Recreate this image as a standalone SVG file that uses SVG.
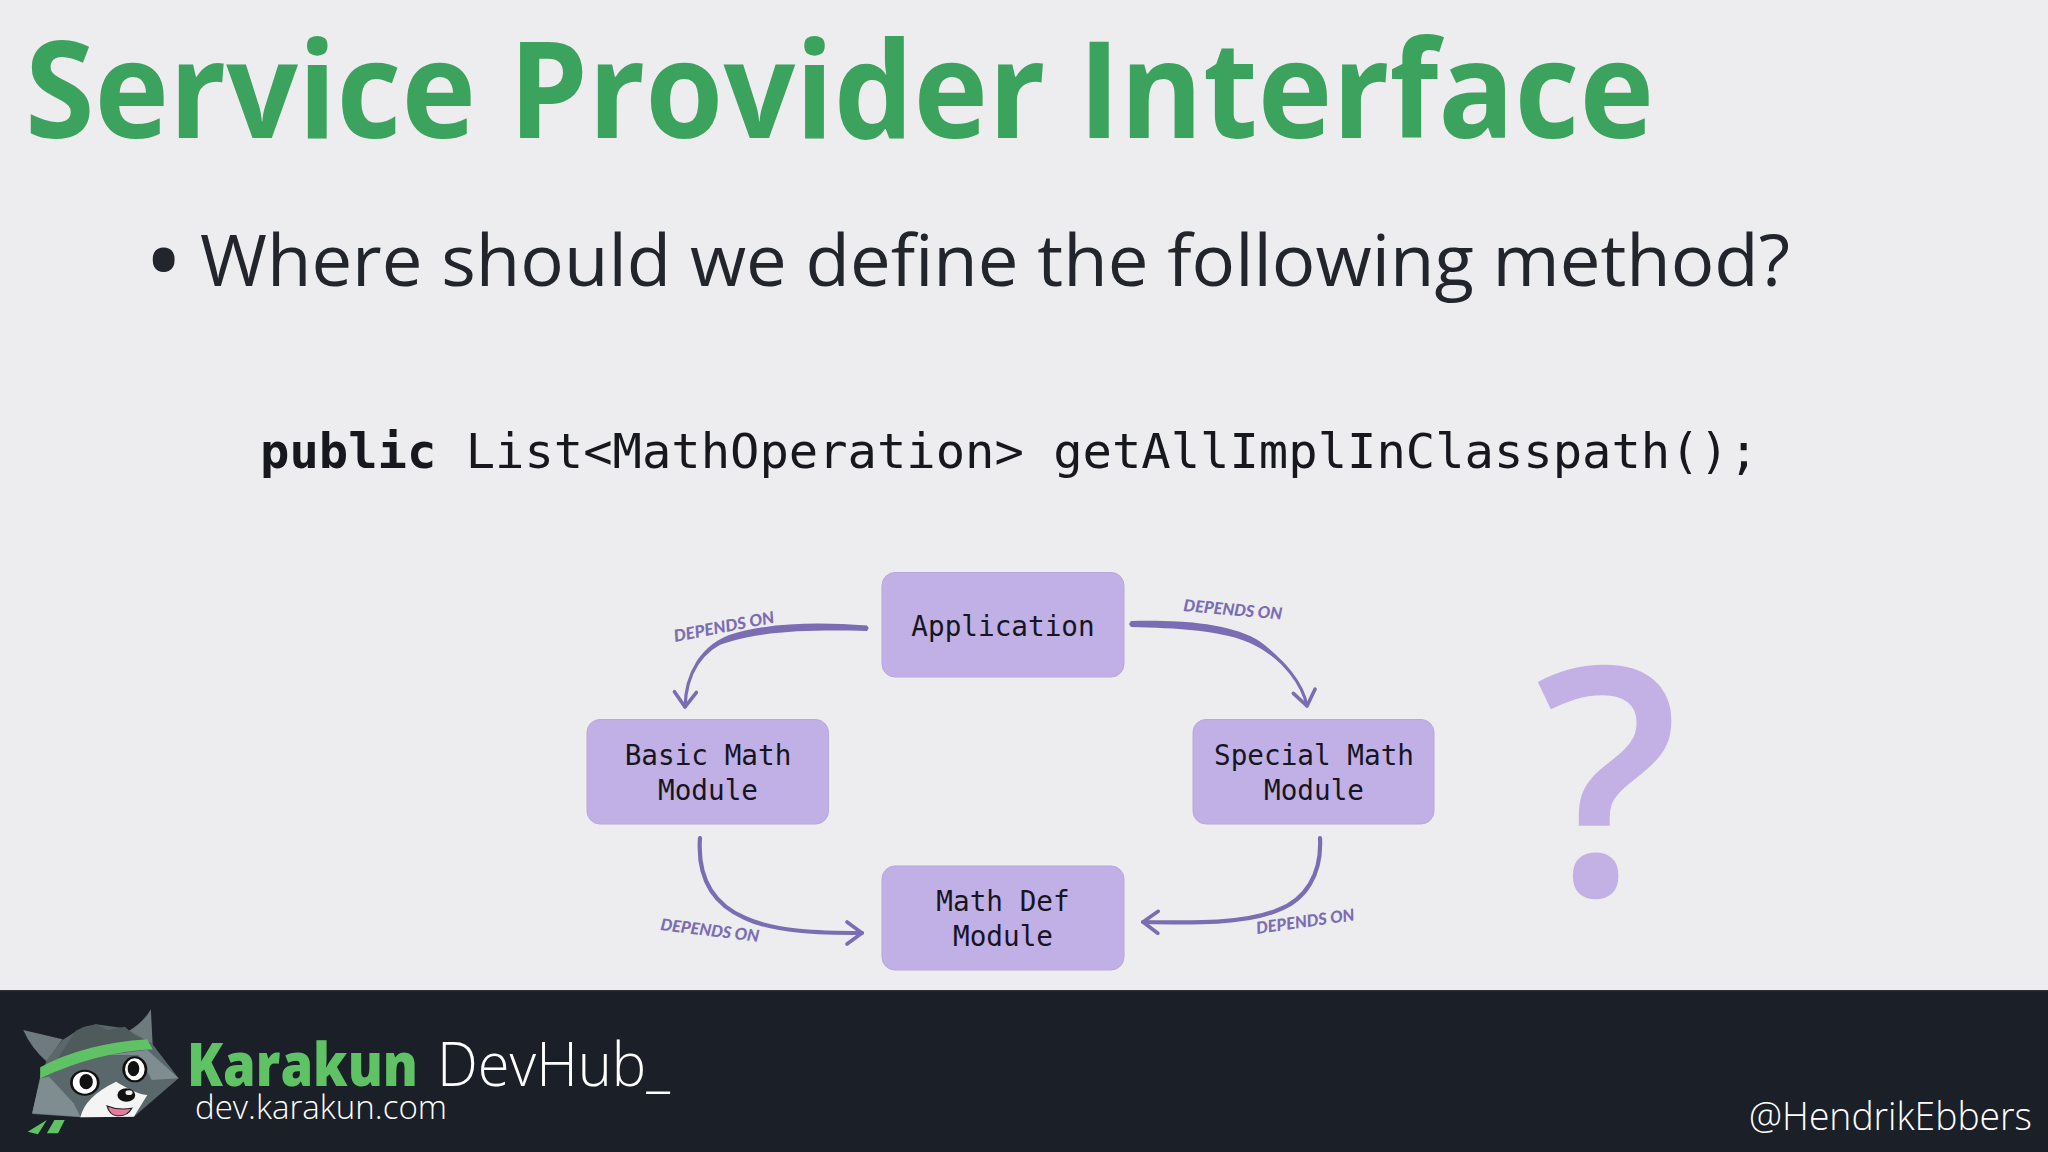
<svg xmlns="http://www.w3.org/2000/svg" width="2048" height="1152" viewBox="0 0 2048 1152">
<style>
.t{font-family:"Open Sans","Noto Sans",sans-serif}
.box{fill:#c0b0e6;stroke:#b7a8dc;stroke-width:1}
.m{font-family:"DejaVu Sans Mono","Liberation Mono",monospace;font-size:27.7px;fill:#17151f;text-anchor:middle}
.code{font-family:"DejaVu Sans Mono","Liberation Mono",monospace;font-size:48.8px;fill:#17181d}
.lbl{font-family:"Lato","Liberation Sans",sans-serif;font-weight:900;font-style:italic;font-size:16.5px;fill:#7b6db4}
.c{fill:none;stroke:#7b6db4;stroke-width:3.2;stroke-linecap:round}
.s{fill:#7b6db4}
</style>
<defs>
<marker id="arr" viewBox="-18 -13 21 26" refX="0" refY="0" markerUnits="userSpaceOnUse" markerWidth="21" markerHeight="26" orient="auto">
<path d="M-15,-11 L0,0 L-15,11" fill="none" stroke="#7b6db4" stroke-width="3.6" stroke-linecap="round" stroke-linejoin="round"/>
</marker>
</defs>
<rect width="2048" height="1152" fill="#edecee"/>
<text class="t" x="25" y="138" font-size="134" font-weight="700" fill="#3ca35e" textLength="1629" lengthAdjust="spacingAndGlyphs">Service Provider Interface</text>
<text class="t" x="149" y="289" font-size="78" font-weight="700" fill="#22252b">•</text>
<text class="t" x="200" y="286" font-size="72" fill="#22252b" textLength="1590" lengthAdjust="spacingAndGlyphs">Where should we define the following method?</text>
<text class="code" x="260" y="468"><tspan font-weight="700">public</tspan> List&lt;MathOperation&gt; getAllImplInClasspath();</text>
<g id="connectors">
<path class="c" marker-end="url(#arr)" d="M867,628 C820,625 770,625 730,638 C700,650 686,675 685,707"/>
<path class="s" d="M867,625.500 C820,622 770,622 729,635 C712,642 702,652 695,664 C705,652 716,645 732,641 C770,630 820,630 867,631 Q869,628 867,625.500Z"/>
<path class="c" marker-end="url(#arr)" d="M1131,624 C1175,623 1225,625 1255,642 C1285,660 1303,685 1307,706"/>
<path class="s" d="M1131,621 C1175,620 1225,622 1256,639 C1270,648 1282,660 1290,672 C1280,662 1268,652 1254,645 C1225,630 1175,628 1131,627 Q1128,624 1131,621Z"/>
<path class="c" style="stroke-width:4.2" marker-end="url(#arr)" d="M700,838 C697,880 715,905 745,918 C775,932 820,933 862,933"/>
<path class="c" style="stroke-width:4.2" marker-end="url(#arr)" d="M1320,838 C1322,875 1305,900 1278,910 C1245,924 1195,923 1143,922"/>
</g>
<g id="edge-labels">
<text class="lbl" textLength="102" lengthAdjust="spacingAndGlyphs" transform="translate(675,642) rotate(-11)">DEPENDS ON</text>
<text class="lbl" textLength="99" lengthAdjust="spacingAndGlyphs" transform="translate(1183,611) rotate(5)">DEPENDS ON</text>
<text class="lbl" textLength="99" lengthAdjust="spacingAndGlyphs" transform="translate(660,930) rotate(7)">DEPENDS ON</text>
<text class="lbl" textLength="99" lengthAdjust="spacingAndGlyphs" transform="translate(1257,934) rotate(-8)">DEPENDS ON</text>
</g>
<g id="application"><rect class="box" x="882" y="572.5" width="242" height="104.5" rx="13"/><text class="m" x="1003" y="636">Application</text></g>
<g id="basic-math-module"><rect class="box" x="587" y="719.5" width="241.500" height="104.5" rx="13"/><text class="m" x="708" y="765">Basic Math</text><text class="m" x="708" y="800">Module</text></g>
<g id="special-math-module"><rect class="box" x="1193" y="719.500" width="241" height="104.5" rx="13"/><text class="m" x="1314" y="765">Special Math</text><text class="m" x="1314" y="800">Module</text></g>
<g id="math-def-module"><rect class="box" x="882" y="866" width="242" height="104" rx="13"/><text class="m" x="1003" y="911">Math Def</text><text class="m" x="1003" y="946">Module</text></g>
<text class="t" x="1535" y="895" font-size="318" font-weight="600" fill="#c3b1e5">?</text>
<rect y="991" width="2048" height="161" fill="#1b1f27"/>
<rect y="990" width="2048" height="1.500" fill="#2e2f33"/>
<g id="logo" transform="translate(0,980) scale(0.4464,0.3333)">
<path d="M52,150 L140,178 L105,245 Q70,205 52,150Z" fill="#6e7a7e"/>
<path d="M338,88 L342,195 L280,160 Q320,130 338,88Z" fill="#6e7a7e"/>
<path d="M105,240 L140,180 L175,150 L215,133 L280,145 L340,190 L400,295 L300,410 L180,412 L72,402 L90,290Z" fill="#5b686b"/>
<path d="M170,152 L188,140 L215,133 L240,150 L280,140 L300,165 L340,190 L180,215 L130,235Z" fill="#4f5a5c"/>
<path d="M90,295 L72,400 L180,410 L165,370 L110,290Z" fill="#7f8d91"/>
<path d="M240,225 L330,210 L400,295 L340,300 L310,225Z" fill="#7f8d91"/>
<path d="M90,262 Q190,190 330,178 L342,208 Q220,215 90,295Z" fill="#5fc365"/>
<path d="M180,412 Q190,350 260,305 Q310,345 330,345 L300,410Z" fill="#f4f4f4"/>
<ellipse cx="190" cy="308" rx="30" ry="36" fill="#fff" stroke="#111" stroke-width="6"/>
<ellipse cx="193" cy="305" rx="15" ry="23" fill="#111"/>
<ellipse cx="302" cy="268" rx="25" ry="36" fill="#fff" stroke="#111" stroke-width="6"/>
<ellipse cx="299" cy="266" rx="13" ry="23" fill="#111"/>
<ellipse cx="283" cy="345" rx="20" ry="20" fill="#111"/>
<ellipse cx="289" cy="338" rx="8" ry="7" fill="#eee"/>
<path d="M240,378 Q265,392 295,385 Q285,410 262,407 Q245,405 240,378Z" fill="#e87aa0" stroke="#222" stroke-width="3"/>
<path d="M62,455 L105,420 L85,463Z M105,460 L122,420 L145,420 L130,460Z" fill="#5fc365"/>
</g>
<text class="t" x="187" y="1086" font-size="60" font-weight="800" fill="#5fc365" textLength="231" lengthAdjust="spacingAndGlyphs">Karakun</text>
<text class="t" x="437" y="1086" font-size="60" font-weight="300" fill="#fff" textLength="233" lengthAdjust="spacingAndGlyphs">DevHub_</text>
<text class="t" x="195" y="1119" font-size="33" font-weight="300" fill="#fff" textLength="252" lengthAdjust="spacingAndGlyphs">dev.karakun.com</text>
<text class="t" x="1749" y="1130" font-size="38" font-weight="300" fill="#fff" textLength="283" lengthAdjust="spacingAndGlyphs">@HendrikEbbers</text>
</svg>
